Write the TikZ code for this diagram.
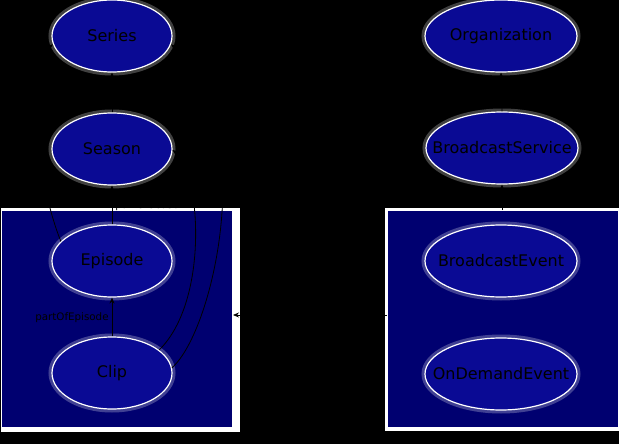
\documentclass[tikz,border=0pt]{standalone}
\usepackage{fontspec}
\setmainfont{DejaVu Sans}
\usetikzlibrary{shapes.geometric,arrows.meta,calc}
\definecolor{ellfill}{RGB}{10,10,148}
\definecolor{boxfill}{RGB}{0,0,112}
\tikzset{
  cls/.style={ellipse, draw=white, line width=1.2pt, fill=ellfill, inner sep=0pt,
    minimum height=72pt, text=black, font=\fontsize{16}{16}\selectfont,
    preaction={draw=white, opacity=0.25, line width=7pt}},
  narrowcls/.style={cls, minimum width=120pt},
  widecls/.style={cls, minimum width=152pt},
  groupbox/.style={rectangle, draw=white, line width=1pt, fill=boxfill, inner sep=0pt,
    minimum width=231pt, minimum height=217pt},
  rel/.style={draw=black, line width=0.8pt, -{Stealth[length=6pt,width=5pt]}},
  lbl/.style={text=black, font=\fontsize{10.3}{10.3}\selectfont, inner sep=1pt}
}
\newcommand{\ctext}[1]{\makebox[0pt]{#1}}
\begin{document}
\begin{tikzpicture}[x=1pt,y=-1pt]
\useasboundingbox (0,0) rectangle (619,444);
\fill[black] (0,0) rectangle (619,444);
% group boxes: white frame, heavier on right and bottom
\fill[white] (0.5,208) rectangle (240,432);
\fill[white] (385,208) rectangle (625,431);
\node[groupbox] (lbox) at (117,319) {};
\node[groupbox] (rbox) at (503,319) {};
% classes
\node[narrowcls] (series) at (112,36) {\ctext{Series}};
\node[narrowcls] (season) at (112,149) {\ctext{Season}};
\node[narrowcls] (episode) at (112,261) {\ctext{Episode}};
\node[narrowcls] (clip) at (112,373) {\ctext{Clip}};
\node[widecls] (org) at (501,36) {\ctext{Organization}};
\node[widecls] (bserv) at (502,148) {\ctext{BroadcastService}};
\node[widecls] (bevent) at (501,261) {\ctext{BroadcastEvent}};
\node[widecls] (odevent) at (501,374) {\ctext{OnDemandEvent}};
% relations
\draw[rel] (season.north) -- (series.south);
\draw[rel] (episode.north) -- node[lbl, pos=0.32, anchor=south west, xshift=2pt] (lseason) {partOfSeason} (season.south);
\draw[rel] (clip.north) -- node[lbl, anchor=east, xshift=-2pt, yshift=-1pt] (lepisode) {partOfEpisode} (episode.south);
\draw[rel] (episode.159) .. controls (40,190) and (20,70) .. (series.188);
\draw[rel] (clip.26) .. controls (210,300) and (200,170) .. (season.359);
\draw[rel] (clip.5) .. controls (215,330) and (260,120) .. (series.352);
\draw[rel] (bserv.north) -- (org.south);
\draw[rel] (bserv.south |- rbox.north) -- (bserv.south);
\draw[rel] ($(rbox.west)+(0,-4)$) -- ($(lbox.east)+(0,-4)$);
\end{tikzpicture}
\end{document}
